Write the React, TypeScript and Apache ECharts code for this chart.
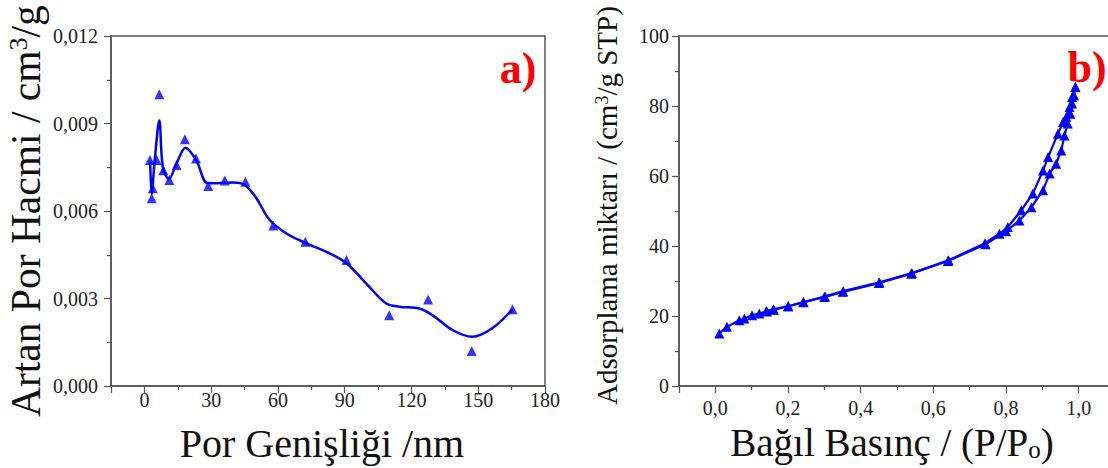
import React, { useEffect, useRef } from 'react';
import * as echarts from 'echarts';

// ---- Panel a) : pore size distribution ----
const poreWidth = [2.5, 3.3, 3.8, 5.5, 6.7, 8.5, 11.2, 14.5, 18.2, 23.2, 28.7, 36.1, 45.4, 57.9, 72.3, 90.8, 110.0, 127.5, 147.1, 165.4];
const poreVolume = [0.00775, 0.00644, 0.00678, 0.00775, 0.0100, 0.0074, 0.00706, 0.00758, 0.00846, 0.0078, 0.00686, 0.00705, 0.0070, 0.0055, 0.00495, 0.00432, 0.00243, 0.00297, 0.0012, 0.00263];

// fitted (smoothed) curve
const fitWidth = [2.6, 3.3, 4.6, 6.7, 8.3, 11.0, 14.5, 18.5, 23.2, 28.5, 32.5, 40, 45, 50.3, 56.3, 63.8, 72.3, 83.2, 90.8, 99.6, 108.5, 114.5, 123.5, 129.4, 138.4, 147.3, 156.3, 165.4];
const fitVolume = [0.0077, 0.0066, 0.0077, 0.0091, 0.0075, 0.0071, 0.00764, 0.00817, 0.00775, 0.00695, 0.00695, 0.00698, 0.0069, 0.00644, 0.00569, 0.00523, 0.00491, 0.00455, 0.00421, 0.00352, 0.00284, 0.00272, 0.00266, 0.00243, 0.00192, 0.00169, 0.00198, 0.00263];

// ---- Panel b) : N2 isotherm ----
const adsP = [0.011, 0.032, 0.066, 0.080, 0.101, 0.121, 0.142, 0.161, 0.201, 0.242, 0.300, 0.351, 0.450, 0.539, 0.640, 0.744, 0.800, 0.837, 0.870, 0.902, 0.920, 0.938, 0.952, 0.961, 0.970, 0.977, 0.982, 0.987, 0.991];
const adsV = [15.0, 16.9, 18.8, 19.3, 20.2, 20.7, 21.3, 21.8, 22.8, 24.0, 25.4, 26.9, 29.4, 32.1, 35.7, 40.5, 44.2, 47.3, 51.1, 55.9, 60.7, 63.5, 67.3, 71.6, 75.0, 77.8, 80.7, 83.1, 85.4];
const desP = [0.991, 0.982, 0.975, 0.966, 0.957, 0.943, 0.916, 0.902, 0.874, 0.842, 0.805, 0.782, 0.742, 0.642, 0.541, 0.452, 0.352, 0.302, 0.243, 0.200, 0.160, 0.140];
const desV = [85.4, 82.6, 79.7, 76.9, 75.4, 72.1, 65.4, 61.6, 55.0, 50.2, 45.4, 43.5, 40.8, 35.9, 32.3, 29.6, 27.1, 25.6, 23.9, 22.8, 21.9, 21.4];

const FONT = 'Liberation Serif';
const BLUE = '#0000ff';
const AXIS = '#555555';

export default function App() {
  const ref = useRef<HTMLDivElement>(null);
  useEffect(() => {
    const chart = echarts.init(ref.current as HTMLDivElement, null, { renderer: 'svg' });
    const axisBase = {
      axisLine: { show: true, onZero: false, lineStyle: { color: AXIS, width: 1.5 } },
      axisTick: { show: true, inside: false, length: 7, lineStyle: { color: AXIS, width: 1.2 } },
      minorTick: { show: true, splitNumber: 2, length: 4, lineStyle: { color: AXIS, width: 1.2 } },
      splitLine: { show: false },
      minorSplitLine: { show: false },
    };
    const labelBase = { color: '#222', fontFamily: FONT, fontSize: 20 };
    const txt = (size: number, extra: any = {}) => ({
      fill: '#111', fontFamily: FONT, fontSize: size, ...extra,
    });
    chart.setOption({
      animation: false,
      backgroundColor: '#fff',
      grid: [
        { left: 111, top: 36, width: 434, height: 350, show: true, borderColor: AXIS, borderWidth: 1.5, containLabel: false, outerBoundsMode: 'none' },
        { left: 679, top: 36, width: 436, height: 350, show: true, borderColor: AXIS, borderWidth: 1.5, containLabel: false, outerBoundsMode: 'none' },
      ],
      xAxis: [
        {
          ...axisBase, type: 'value', gridIndex: 0, min: -15, max: 180, splitNumber: 5,
          axisLabel: { ...labelBase, margin: 4, showMinLabel: false },
        },
        {
          ...axisBase, type: 'value', gridIndex: 1, min: -0.1, max: 1.1, splitNumber: 5,
          axisLabel: { ...labelBase, margin: 12, showMinLabel: false, showMaxLabel: false,
            formatter: (v: number) => v.toFixed(1).replace('.', ',') },
        },
      ],
      yAxis: [
        {
          ...axisBase, type: 'value', gridIndex: 0, min: 0, max: 0.012, interval: 0.003,
          axisLabel: { ...labelBase, margin: 13, formatter: (v: number) => v.toFixed(3).replace('.', ',') },
        },
        {
          ...axisBase, type: 'value', gridIndex: 1, min: 0, max: 100, interval: 20,
          axisLabel: { ...labelBase, margin: 10 },
        },
      ],
      series: [
        {
          type: 'line', xAxisIndex: 0, yAxisIndex: 0, smooth: 0.35, symbol: 'none', showSymbol: false,
          data: fitWidth.map((x, i) => [x, fitVolume[i]]),
          lineStyle: { color: BLUE, width: 2.5 }, z: 2,
        },
        {
          type: 'scatter', xAxisIndex: 0, yAxisIndex: 0, symbol: 'triangle', symbolSize: 10,
          data: poreWidth.map((x, i) => [x, poreVolume[i]]),
          itemStyle: { color: BLUE }, z: 3,
        },
        {
          type: 'line', xAxisIndex: 1, yAxisIndex: 1, symbol: 'triangle', symbolSize: 10, showAllSymbol: true,
          data: adsP.map((x, i) => [x, adsV[i]]),
          lineStyle: { color: BLUE, width: 2.2 }, itemStyle: { color: BLUE },
        },
        {
          type: 'line', xAxisIndex: 1, yAxisIndex: 1, symbol: 'triangle', symbolSize: 10, showAllSymbol: true,
          data: desP.map((x, i) => [x, desV[i]]),
          lineStyle: { color: BLUE, width: 2.2 }, itemStyle: { color: BLUE },
        },
      ],
      graphic: [
        {
          type: 'text', x: 26, y: 417, rotation: Math.PI / 2,
          style: txt(41.5, {
            text: 'Artan Por Hacmi / cm{sup|3}/g', align: 'left', verticalAlign: 'middle',
            rich: { sup: { fontSize: 26, fontFamily: FONT, verticalAlign: 'top', fill: '#111' } },
          }),
        },
        {
          type: 'text', x: 322, y: 443,
          style: txt(40, { text: 'Por Genişliği /nm', align: 'center', verticalAlign: 'middle' }),
        },
        {
          type: 'text', x: 607, y: 405, rotation: Math.PI / 2,
          style: txt(29, {
            text: 'Adsorplama miktarı / (cm{sup|3}/g STP)', align: 'left', verticalAlign: 'middle',
            rich: { sup: { fontSize: 18, fontFamily: FONT, verticalAlign: 'top', fill: '#111' } },
          }),
        },
        {
          type: 'text', x: 892, y: 442,
          style: txt(39, {
            text: 'Bağıl Basınç / (P/P{sub|o})', align: 'center', verticalAlign: 'middle',
            rich: { sub: { fontSize: 25, fontFamily: FONT, verticalAlign: 'bottom', fill: '#111' } },
          }),
        },
        {
          type: 'text', x: 518, y: 68,
          style: txt(44, { text: 'a)', fill: '#ff0000', fontWeight: 'bold', align: 'center', verticalAlign: 'middle' }),
        },
        {
          type: 'text', x: 1087, y: 67,
          style: txt(44, { text: 'b)', fill: '#ff0000', fontWeight: 'bold', align: 'center', verticalAlign: 'middle' }),
        },
      ],
    });
    return () => chart.dispose();
  }, []);
  return (
    <div
      ref={ref}
      style={{ position: 'fixed', left: 0, top: 0, width: 1108, height: 468, background: '#fff' }}
    />
  );
}
